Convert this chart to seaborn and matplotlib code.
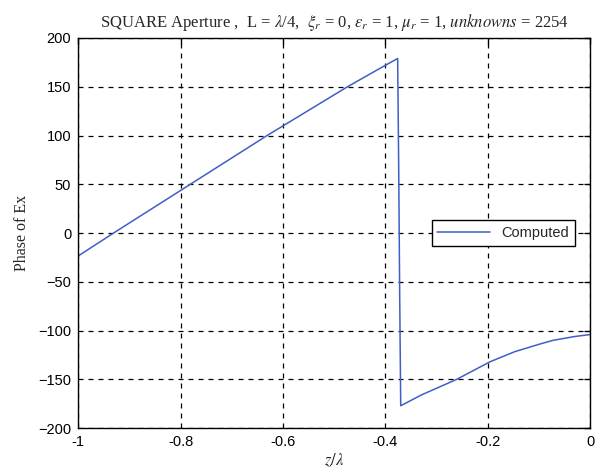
import matplotlib
matplotlib.use("Agg")
import matplotlib.pyplot as plt
import seaborn as sns
import pandas as pd

z_over_lambda = [-1.0, -0.931, -0.781, -0.631, -0.474, -0.40, -0.376, -0.374,
                 -0.372, -0.370, -0.33, -0.261, -0.196, -0.147, -0.10, -0.073,
                 -0.03, 0.0]
phase_ex = [-23.5, 0.0, 50.0, 100.0, 150.0, 172.0, 179.0, 70.0,
            -64.0, -177.0, -166.0, -150.0, -132.0, -121.5, -114.0, -110.0,
            -106.0, -104.0]
series_name = "Computed"
x_ticks = [-1, -0.8, -0.6, -0.4, -0.2, 0]
x_tick_labels = ["-1", "-0.8", "-0.6", "-0.4", "-0.2", "0"]
y_ticks = [-200, -150, -100, -50, 0, 50, 100, 150, 200]

df = pd.DataFrame({"z": z_over_lambda, "phase": phase_ex, "series": series_name})

sns.set_style("white")
plt.rcParams["font.family"] = ["Liberation Sans", "DejaVu Sans"]
plt.rcParams["mathtext.fontset"] = "stix"

fig = plt.figure(figsize=(6.01, 4.69), dpi=100)
ax = fig.add_axes([0.13, 0.087, 0.852, 0.832])

sns.lineplot(data=df, x="z", y="phase", hue="series", palette=["#3f5fc4"],
             linewidth=1.1, ax=ax, sort=False, estimator=None)

ax.set_xlim(-1, 0)
ax.set_ylim(-200, 200)
ax.set_xticks(x_ticks)
ax.set_xticklabels(x_tick_labels)
ax.set_yticks(y_ticks)
ax.tick_params(direction="in", top=True, right=True, length=4, width=1,
               labelsize=10.5, colors="black", pad=5)
ax.grid(True, color="black", linestyle=(0, (4, 4)), linewidth=0.9)
for s in ax.spines.values():
    s.set_color("black")
    s.set_linewidth(1.0)

ax.set_xlabel(r"$z/\lambda$", fontsize=12, family="Liberation Serif", labelpad=2)
ax.set_ylabel("Phase of Ex", fontsize=11.5, family="Liberation Serif", labelpad=6)
ax.set_title(r"SQUARE Aperture ,  L = $\lambda$/4,  $\xi_r$ = 0, $\varepsilon_r$ = 1, $\mu_r$ = 1, $\it{unknowns}$ = 2254",
             fontsize=12, family="Liberation Serif", pad=8)

leg = ax.legend(loc="center right", bbox_to_anchor=(0.985, 0.5), frameon=True,
                fancybox=False, edgecolor="black", fontsize=10.5, framealpha=1,
                handlelength=3.6, borderpad=0.4)
leg.get_frame().set_linewidth(1.0)

fig.savefig("out.png", dpi=100)
